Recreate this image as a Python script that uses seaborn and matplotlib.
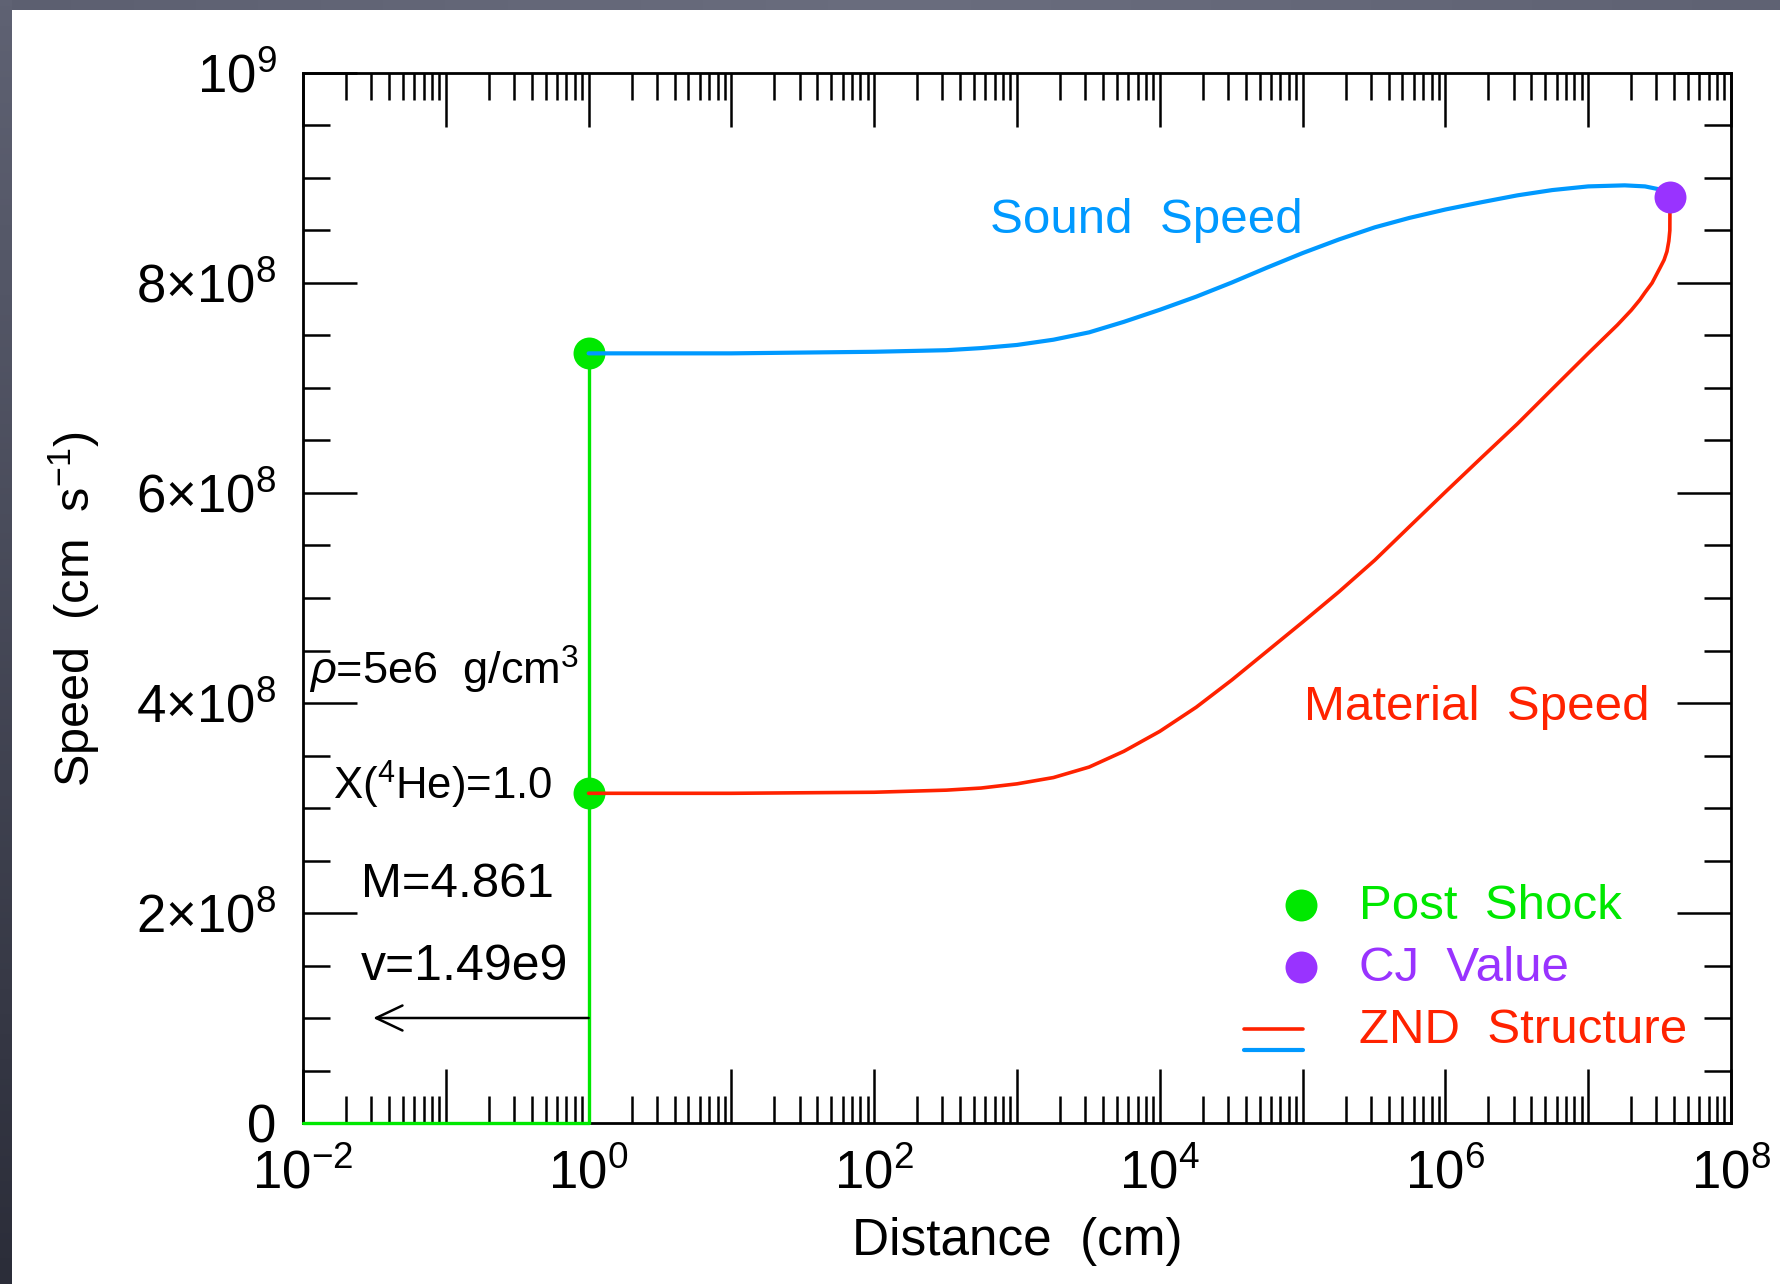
import numpy as np
import pandas as pd
import matplotlib
matplotlib.use("Agg")
import matplotlib.pyplot as plt
import seaborn as sns
from matplotlib.lines import Line2D
from matplotlib.legend_handler import HandlerBase
from matplotlib.ticker import FixedLocator, MultipleLocator, NullFormatter

# ---------------- data ----------------
sound_dist = [1.0, 1.0e1, 1.0e2, 3.2e2, 5.6e2, 1.0e3, 1.8e3, 3.2e3, 5.6e3, 1.0e4,
              1.8e4, 3.2e4, 5.6e4, 1.0e5, 1.8e5, 3.2e5, 5.6e5, 1.0e6, 1.8e6,
              3.2e6, 5.6e6, 1.0e7, 1.8e7, 2.5e7, 3.2e7, 3.74e7]
sound_speed = [7.33e8, 7.33e8, 7.345e8, 7.36e8, 7.38e8, 7.41e8, 7.46e8, 7.53e8, 7.63e8, 7.745e8,
               7.87e8, 8.005e8, 8.145e8, 8.285e8, 8.415e8, 8.53e8, 8.62e8, 8.70e8, 8.77e8,
               8.835e8, 8.885e8, 8.92e8, 8.93e8, 8.92e8, 8.89e8, 8.82e8]

mat_dist = [1.0, 1.0e1, 1.0e2, 3.2e2, 5.6e2, 1.0e3, 1.8e3, 3.2e3, 5.6e3, 1.0e4,
            1.8e4, 3.2e4, 5.6e4, 1.0e5, 1.8e5, 3.2e5, 5.6e5, 1.0e6, 1.8e6,
            3.2e6, 5.6e6, 1.0e7, 1.6e7, 2.0e7, 2.3e7, 2.5e7, 2.8e7, 3.2e7,
            3.4e7, 3.56e7, 3.67e7, 3.73e7, 3.74e7]
mat_speed = [3.14e8, 3.14e8, 3.15e8, 3.17e8, 3.19e8, 3.23e8, 3.29e8, 3.39e8, 3.54e8, 3.73e8,
             3.96e8, 4.22e8, 4.49e8, 4.77e8, 5.06e8, 5.36e8, 5.68e8, 6.01e8, 6.34e8,
             6.66e8, 6.99e8, 7.33e8, 7.60e8, 7.74e8, 7.84e8, 7.91e8, 8.00e8, 8.15e8,
             8.22e8, 8.30e8, 8.40e8, 8.50e8, 8.82e8]

shock_dist = [1.0e-2, 1.0, 1.0]
shock_speed = [0.0, 0.0, 7.33e8]

post_dist = [1.0, 1.0]
post_speed = [7.33e8, 3.14e8]

cj_dist = [3.74e7]
cj_speed = [8.82e8]

ytick_vals = [0, 2e8, 4e8, 6e8, 8e8, 1e9]
ytick_labels = ["0", r"$2{\times}10^{8}$", r"$4{\times}10^{8}$", r"$6{\times}10^{8}$",
                r"$8{\times}10^{8}$", r"$10^{9}$"]
xtick_vals = [1e-2, 1e-1, 1e0, 1e1, 1e2, 1e3, 1e4, 1e5, 1e6, 1e7, 1e8]
xtick_labels = [r"$10^{-2}$", "", r"$10^{0}$", "", r"$10^{2}$", "", r"$10^{4}$", "",
                r"$10^{6}$", "", r"$10^{8}$"]

GREEN = "#00e800"
BLUE = "#0099ff"
RED = "#ff2200"
PURPLE = "#9933ff"

# ---------------- style ----------------
sns.set_style("white")
plt.rcParams["font.family"] = ["Liberation Sans", "DejaVu Sans"]
plt.rcParams["mathtext.fontset"] = "custom"
plt.rcParams["mathtext.rm"] = "Liberation Sans"
plt.rcParams["mathtext.it"] = "Liberation Sans:italic"
plt.rcParams["mathtext.bf"] = "Liberation Sans:bold"
plt.rcParams["mathtext.sf"] = "Liberation Sans"
for k in ["text.color", "axes.labelcolor", "xtick.color", "ytick.color",
          "xtick.labelcolor", "ytick.labelcolor"]:
    plt.rcParams[k] = "black"

W, H = 1781, 1284
fig = plt.figure(figsize=(W / 100, H / 100), dpi=100, facecolor="white")

# grey frame of the screenshot (top and left strips)
top_ax = fig.add_axes([0, 1 - 10 / H, 1, 10 / H])
top_ax.imshow(np.linspace(0, 1, 200)[None, :], cmap=matplotlib.colors.LinearSegmentedColormap.from_list(
    "t", ["#5c5f70", "#6a6d7e", "#5f6273"]), aspect="auto")
top_ax.axis("off")
left_ax = fig.add_axes([0, 0, 12 / W, 1])
left_ax.imshow(np.linspace(0, 1, 200)[:, None], cmap=matplotlib.colors.LinearSegmentedColormap.from_list(
    "l", ["#5f6273", "#2b2d39"]), aspect="auto")
left_ax.axis("off")

ax = fig.add_axes([303 / W, 1 - 1123 / H, 1428 / W, 1050 / H])
ax.set_facecolor("white")
ax.set_xscale("log")

# ---------------- marks ----------------
sns.lineplot(x=shock_dist, y=shock_speed, sort=False, estimator=None, color=GREEN,
             lw=2.4, ax=ax, zorder=3, clip_on=False)
sns.scatterplot(x=post_dist, y=post_speed, color=GREEN, s=23 ** 2, linewidth=0,
                ax=ax, zorder=4, clip_on=False)
sns.lineplot(x=sound_dist, y=sound_speed, sort=False, estimator=None, color=BLUE,
             lw=3.0, ax=ax, zorder=5)
sns.lineplot(x=mat_dist, y=mat_speed, sort=False, estimator=None, color=RED,
             lw=2.6, ax=ax, zorder=5)
sns.scatterplot(x=cj_dist, y=cj_speed, color=PURPLE, s=23 ** 2, linewidth=0,
                ax=ax, zorder=6, clip_on=False)

# arrow (direction of propagation)
ax.annotate("", xy=(0.031, 1.0e8), xytext=(1.0, 1.0e8),
            arrowprops=dict(arrowstyle="->,head_length=0.95,head_width=0.45",
                            lw=1.8, color="black", shrinkA=0, shrinkB=0,
                            mutation_scale=20), zorder=4)

# ---------------- axes ----------------
ax.set_xlim(1e-2, 1e8)
ax.set_ylim(0, 1e9)
ax.xaxis.set_major_locator(FixedLocator(xtick_vals))
ax.set_xticklabels(xtick_labels)
ax.xaxis.set_minor_locator(FixedLocator(
    [m * 10.0 ** e for e in range(-2, 8) for m in range(2, 10)]))
ax.xaxis.set_minor_formatter(NullFormatter())
ax.yaxis.set_major_locator(FixedLocator(ytick_vals))
ax.set_yticklabels(ytick_labels)
ax.yaxis.set_minor_locator(MultipleLocator(5e7))

for s in ax.spines.values():
    s.set_linewidth(2.0)
    s.set_color("black")
    s.set_visible(True)

ax.tick_params(which="both", direction="in", top=True, right=True,
               bottom=True, left=True, color="black", width=1.8)
ax.tick_params(which="major", length=39)
ax.tick_params(which="minor", length=19.5)
ax.tick_params(axis="x", which="major", labelsize=38, pad=19)
ax.tick_params(axis="y", which="major", labelsize=38, pad=19)

ax.set_xlabel("Distance  (cm)", fontsize=37)
ax.xaxis.set_label_coords(0.5, -(1241 - 1123) / 1050)
ax.xaxis.label.set_va("center")
ax.set_ylabel(r"Speed  (cm  s$^{-1}$)", fontsize=35)
ax.yaxis.set_label_coords((74 - 303) / 1428, 0.489)
ax.yaxis.label.set_va("center")

# ---------------- annotations ----------------
ax.text(10 ** 3.907, 8.48e8, "Sound  Speed", color=BLUE, fontsize=35.5,
        ha="center", va="baseline")
ax.text(10 ** 6.22, 3.84e8, "Material  Speed", color=RED, fontsize=35.5,
        ha="center", va="baseline")
ax.text(0.011, 4.17e8, r"$\rho$=5e6  g/cm$^{3}$", fontsize=32.5, va="baseline")
ax.text(0.0162, 3.08e8, r"X($^{4}$He)=1.0", fontsize=31.5, va="baseline")
ax.text(0.0255, 2.15e8, "M=4.861", fontsize=35.5, va="baseline")
ax.text(0.0255, 1.36e8, "v=1.49e9", fontsize=36, va="baseline")


# ---------------- legend ----------------
class DotHandler(HandlerBase):
    def create_artists(self, legend, orig_handle, xdescent, ydescent, width,
                       height, fontsize, trans):
        ln = Line2D([width * 0.97 - xdescent], [0.28 * fontsize - ydescent],
                    linestyle="none", marker="o",
                    markersize=orig_handle.get_markersize(),
                    markerfacecolor=orig_handle.get_markerfacecolor(),
                    markeredgewidth=0, transform=trans)
        return [ln]


class PairHandler(HandlerBase):
    def create_artists(self, legend, orig_handle, xdescent, ydescent, width,
                       height, fontsize, trans):
        out = []
        for h, yoff in zip(orig_handle, (0.28, -0.14)):
            out.append(Line2D([-xdescent, width - xdescent],
                              [yoff * fontsize - ydescent] * 2,
                              color=h.get_color(), lw=h.get_linewidth(),
                              transform=trans))
        return out


h_post = Line2D([], [], ls="none", marker="o", markersize=23, markerfacecolor=GREEN)
h_cj = Line2D([], [], ls="none", marker="o", markersize=23, markerfacecolor=PURPLE)
h_znd = (Line2D([], [], color=RED, lw=2.6), Line2D([], [], color=BLUE, lw=3.0))

leg = ax.legend([h_post, h_cj, h_znd], ["Post  Shock", "CJ  Value", "ZND  Structure"],
                handler_map={h_post: DotHandler(), h_cj: DotHandler(), h_znd: PairHandler()},
                loc="upper left", bbox_to_anchor=(0.659, 0.2275), borderpad=0,
                borderaxespad=0, frameon=False, fontsize=35.5, handlelength=1.2,
                handleheight=0.7, handletextpad=1.14, labelspacing=0.34,
                labelcolor=[GREEN, PURPLE, RED])
leg.set_zorder(7)

fig.savefig("out.png", dpi=100, facecolor="white")
